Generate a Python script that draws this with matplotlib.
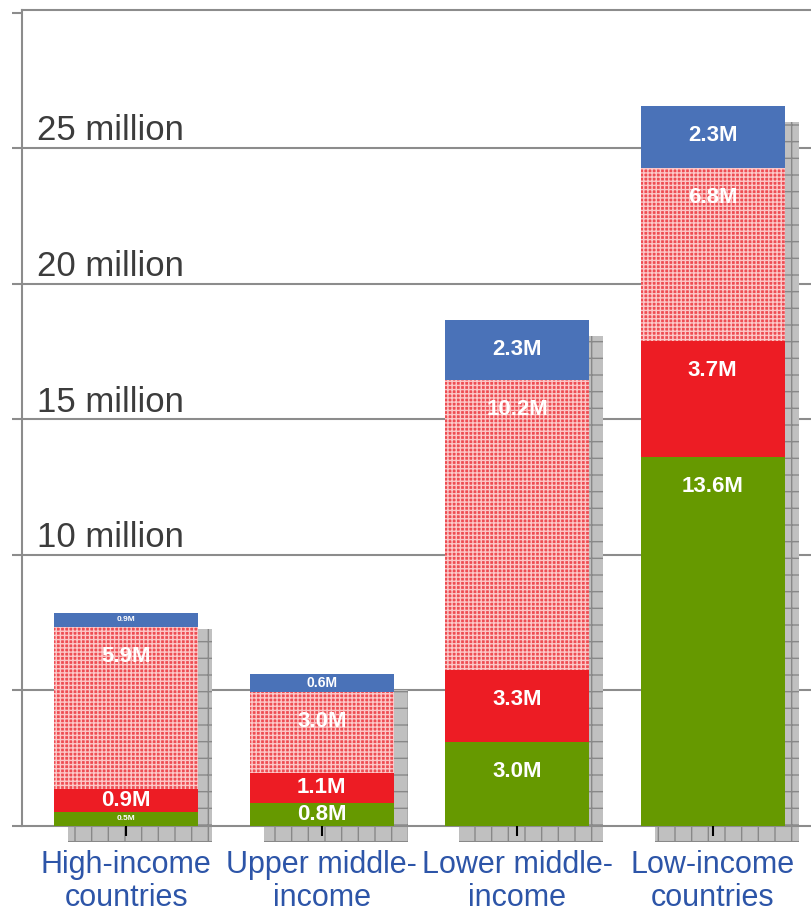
import matplotlib
matplotlib.use("Agg")
import matplotlib.pyplot as plt
import numpy as np

plt.rcParams['font.family'] = ['Liberation Sans', 'DejaVu Sans']
plt.rcParams['hatch.linewidth'] = 1.0

# data (millions), bottom to top
categories = ["High-income\ncountries", "Upper middle-\nincome",
              "Lower middle-\nincome", "Low-income\ncountries"]
green = [0.52, 0.85, 3.10, 13.62]
red = [0.85, 1.11, 2.66, 4.28]
hatched = [5.98, 2.99, 10.70, 6.38]
blue = [0.52, 0.66, 2.21, 2.29]

green_lbl = ["0.5M", "0.8M", "3.0M", "13.6M"]
red_lbl = ["0.9M", "1.1M", "3.3M", "3.7M"]
hatched_lbl = ["5.9M", "3.0M", "10.2M", "6.8M"]
blue_lbl = ["0.9M", "0.6M", "2.3M", "2.3M"]

ytick_vals = [0, 5, 10, 15, 20, 25, 30]
ylabel_vals = [10, 15, 20, 25]

fig = plt.figure(figsize=(8.12, 9.16), dpi=100)
ax = fig.add_axes([22 / 812, 90 / 916, 1 - 22 / 812, 816 / 916])

x = np.arange(len(categories))
w = 0.737
ax.set_xlim(-0.534, 3.509)
ax.set_ylim(0, 30.1)

# gridlines
for v in ytick_vals[1:-1]:
    ax.axhline(v, color='#8c8c8c', lw=1.5, zorder=0.8)

totals = np.array(green) + np.array(red) + np.array(hatched) + np.array(blue)

# grey "shadow" behind every bar
dx, dy = 0.072, 0.59
for xi, t in zip(x, totals):
    r = plt.Rectangle((xi - w / 2 + dx, -dy), w, t, facecolor='#c0c0c0',
                      edgecolor='#888888', hatch='+', lw=0, zorder=1, clip_on=False)
    ax.add_patch(r)

bottom = np.zeros(len(x))
segs = [(green, green_lbl, dict(color='#669900')),
        (red, red_lbl, dict(color='#ed1c24')),
        (hatched, hatched_lbl, dict(facecolor='#ee4d53', edgecolor='#fcc8c8', hatch='++++')),
        (blue, blue_lbl, dict(color='#4a72b8'))]

for vals, lbls, style in segs:
    vals = np.array(vals)
    ax.bar(x, vals, w, bottom=bottom, lw=0, zorder=3, **style)
    for xi, b, v, lb in zip(x, bottom, vals, lbls):
        top = b + v
        y = max(b + v / 2, top - 1.1)
        fs = 16
        if v < 0.6:
            fs = 6
        elif v < 0.8:
            fs = 10
        ax.text(xi, y, lb, ha='center', va='center', color='white',
                fontsize=fs, fontweight='bold', zorder=4)
    bottom = bottom + vals

# y labels inside the plot
for v in ylabel_vals:
    ax.text(-0.455, v + 0.03, f"{v} million", fontsize=25, color='#3c3c3c',
            ha='left', va='bottom', zorder=5)

ax.set_yticks(ytick_vals)
ax.set_yticklabels([])
ax.tick_params(axis='y', length=7, width=1.5, color='#8c8c8c', direction='out')
ax.set_xticks(x)
ax.set_xticklabels(categories, fontsize=22, color='#2d55a8', linespacing=1.15)
ax.tick_params(axis='x', length=7, width=1.5, color='black', pad=10)
ax.xaxis.set_zorder(4)

for s in ['left', 'top', 'bottom']:
    ax.spines[s].set_color('#8c8c8c')
    ax.spines[s].set_linewidth(1.5)
ax.spines['right'].set_visible(False)

fig.savefig("out.png", dpi=100)
